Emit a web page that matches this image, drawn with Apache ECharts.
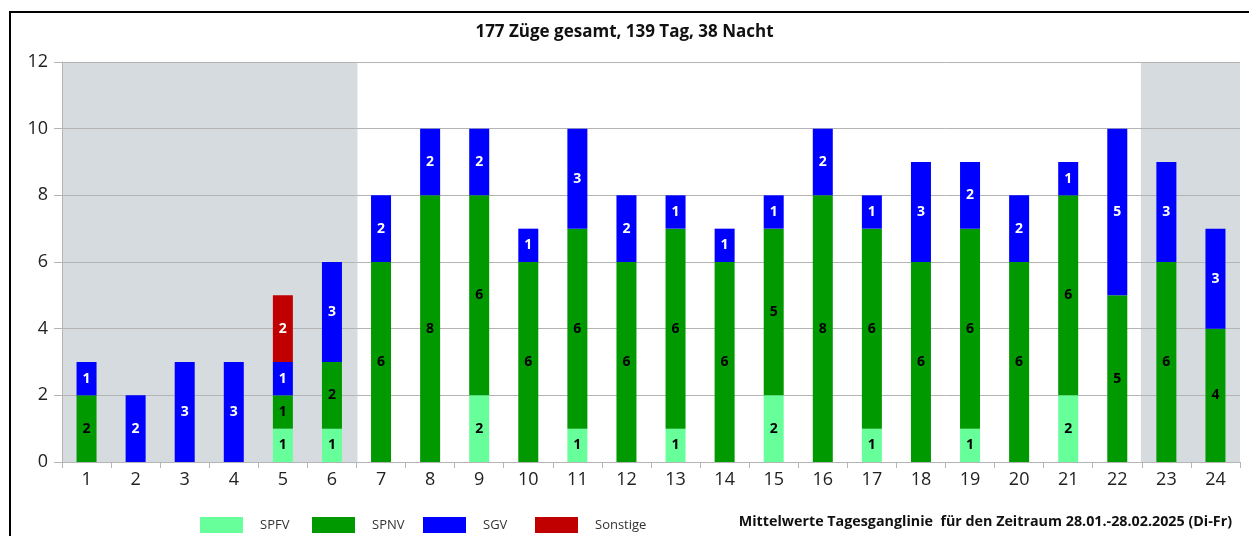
<!DOCTYPE html>
<html>
<head>
<meta charset="utf-8">
<script src="https://cdn.jsdelivr.net/npm/echarts@6/dist/echarts.min.js"></script>
<style>
html,body{margin:0;padding:0;background:#fff;}
#wrap{position:relative;width:1249px;height:536px;overflow:hidden;}
#chart{position:absolute;left:0;top:0;width:1249px;height:536px;}
#frame{position:absolute;left:9px;top:11px;width:1300px;height:600px;border-left:2px solid #000;border-top:2px solid #000;pointer-events:none;}
</style>
</head>
<body>
<div id="wrap"><div id="chart"></div><div id="frame"></div></div>
<script>
const hours = ['1','2','3','4','5','6','7','8','9','10','11','12','13','14','15','16','17','18','19','20','21','22','23','24'];
const spfv     = [0,0,0,0,1,1,0,0,2,0,1,0,1,0,2,0,1,0,1,0,2,0,0,0];
const spnv     = [2,0,0,0,1,2,6,8,6,6,6,6,6,6,5,8,6,6,6,6,6,5,6,4];
const sgv      = [1,2,3,3,1,3,2,2,2,1,3,2,1,1,1,2,1,3,2,2,1,5,3,3];
const sonstige = [0,0,0,0,2,0,0,0,0,0,0,0,0,0,0,0,0,0,0,0,0,0,0,0];
const seriesNames = ['SPFV','SPNV','SGV','Sonstige'];
const nightHours = ['1','2','3','4','5','6','23','24'];
const yMax = 12;
const titleText = '177 Züge gesamt, 139 Tag, 38 Nacht';
const footText = 'Mittelwerte Tagesganglinie  für den Zeitraum 28.01.-28.02.2025 (Di-Fr)';

const nightBg = hours.map(h => nightHours.includes(h) ? yMax : 0);

const FONT = '"Open Sans", sans-serif';
function lbl(color){
  return {show:true, position:'inside', color:color, fontWeight:'bold', fontSize:14, fontFamily:FONT,
    formatter: p => p.value ? String(p.value) : ''};
}
function barSeries(name, data, color, labelColor){
  return {name, type:'bar', stack:'total', data, barWidth:20, itemStyle:{color}, label:lbl(labelColor), xAxisIndex:0, z:2};
}
const legendLefts = [195, 307, 418, 530];
const legends = seriesNames.map((n, i) => ({
  data:[n], left:legendLefts[i], top:512, itemWidth:43, itemHeight:16, icon:'rect',
  textStyle:{fontFamily:FONT, fontSize:13, color:'#333', padding:[0,0,0,12]}
}));

const chart = echarts.init(document.getElementById('chart'));
chart.setOption({
  animation:false,
  backgroundColor:'#fff',
  title:{text:titleText, left:'center', top:19, textStyle:{fontFamily:FONT, fontWeight:'bold', fontSize:17, color:'#111'}},
  grid:{left:62, right:9, top:62, bottom:74},
  legend:legends,
  graphic:[{type:'text', right:17, top:515, style:{text:footText, font:'bold 14.3px "Open Sans", sans-serif', fill:'#111'}}],
  xAxis:[
    {type:'category', data:hours, axisLine:{lineStyle:{color:'#b4b4b4'}}, axisTick:{show:true, length:6, lineStyle:{color:'#b4b4b4'}},
     axisLabel:{fontFamily:FONT, fontSize:18, color:'#222', margin:9}},
    {type:'category', data:hours, show:false, splitLine:{show:false}}
  ],
  yAxis:{type:'value', min:0, max:yMax, interval:2,
    axisLine:{show:true, lineStyle:{color:'#b4b4b4'}}, axisTick:{show:true, length:8, lineStyle:{color:'#b4b4b4'}},
    splitLine:{lineStyle:{color:'#b4b4b4'}},
    axisLabel:{fontFamily:FONT, fontSize:18, color:'#222', margin:14}},
  series:[
    {name:'night', type:'bar', data:nightBg, xAxisIndex:1, barWidth:51, itemStyle:{color:'#d6dbdf'}, silent:true, z:-1},
    barSeries('SPFV', spfv, '#66ff99', '#000'),
    barSeries('SPNV', spnv, '#009900', '#000'),
    barSeries('SGV', sgv, '#0000ff', '#fff'),
    barSeries('Sonstige', sonstige, '#c00000', '#fff')
  ]
});
</script>
</body>
</html>
